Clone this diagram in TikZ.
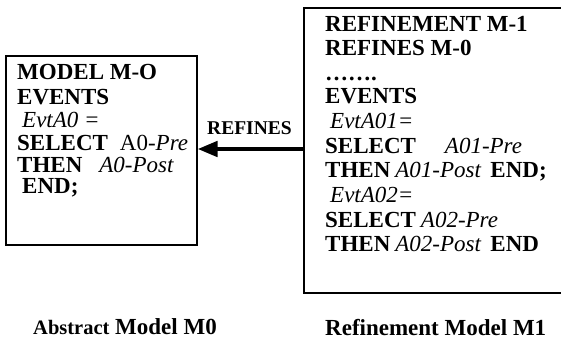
\documentclass[tikz,border=0pt]{standalone}
\usepackage{fontspec}
\setmainfont{Liberation Serif}
\usetikzlibrary{arrows.meta}
\begin{document}
\begin{tikzpicture}[x=1pt,y=-1pt,
  txt/.style={anchor=base west,inner sep=0pt,font=\fontsize{23}{24}\selectfont},
  captxt/.style={anchor=base west,inner sep=0pt,font=\fontsize{23}{24}\selectfont\bfseries},
  boxline/.style={line width=1.5pt},
  refarrow/.style={line width=4.5pt,-{Triangle[length=20pt,width=15pt]}}]
\useasboundingbox (0,0) rectangle (561,340);
% left box
\node[draw,boxline,minimum width=191pt,minimum height=189pt,inner sep=0pt,anchor=north west] (m0) at (5,55) {};
\node[txt] (l1) at (17,79) {\bfseries MODEL M-O};
\node[txt] (l2) at (17,104) {\bfseries EVENTS};
\node[txt] (l3) at (22,127) {\itshape EvtA0 =};
\node[txt] (l4) at (17,150) {\textbf{SELECT}\hspace{12pt}A0-\textit{Pre}};
\node[txt] (l5) at (17,172) {\textbf{THEN}\hspace{17pt}\textit{A0-Post}};
\node[txt] (l6) at (22,193) {\bfseries END;};
% right box
\draw[boxline] (562,8) -- (304,8) -- (304,293) -- (562,293);
\coordinate (m1w) at (304,149);
\node[txt] (r1) at (325,31) {\bfseries REFINEMENT M-1};
\node[txt] (r2) at (325,55) {\bfseries REFINES M-0};
\node[txt] (r3) at (325,80) {\bfseries …….};
\node[txt] (r4) at (325,103) {\bfseries EVENTS};
\node[txt] (r5) at (330,128) {\itshape EvtA01=};
\node[txt] (r6) at (325,153) {\textbf{SELECT}\hspace{29pt}\textit{A01-Pre}};
\node[txt] (r7) at (325,177) {\textbf{THEN}\hspace{5pt}\textit{A01-Post}\hspace{9pt}\textbf{END;}};
\node[txt] (r8) at (330,202) {\itshape EvtA02=};
\node[txt] (r9) at (325,227) {\textbf{SELECT}\hspace{5pt}\textit{A02-Pre}};
\node[txt] (r10) at (325,251) {\textbf{THEN}\hspace{5pt}\textit{A02-Post}\hspace{9pt}\textbf{END}};
% arrow
\draw[refarrow] (m1w) -- (m0.east |- m1w);
\node[anchor=base,inner sep=0pt,font=\fontsize{19.5}{20}\selectfont\bfseries] (ref) at (249.5,134) {REFINES};
% captions
\node[captxt] (c0) at (33,334) {{\fontsize{20.5}{21}\selectfont Abstract} Model M0};
\node[captxt] (c1) at (325,335) {Refinement Model M1};
\end{tikzpicture}
\end{document}
